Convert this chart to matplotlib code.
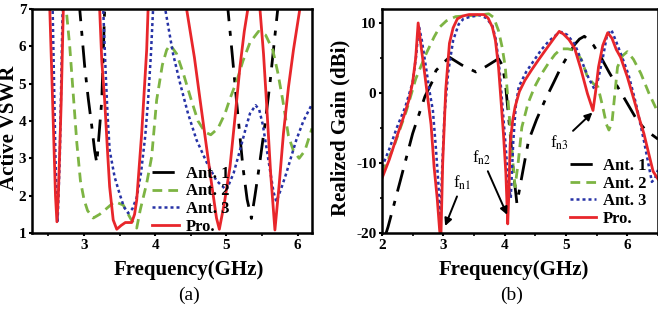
import matplotlib
matplotlib.use("Agg")
import matplotlib.pyplot as plt
from matplotlib.ticker import MultipleLocator

plt.rcParams['font.family'] = ['Liberation Serif', 'DejaVu Serif']
plt.rcParams['mathtext.fontset'] = 'stix'
plt.rcParams['axes.unicode_minus'] = False

# ---- (a) Active VSWR ----
f_ant1_a = [2.27, 2.92, 2.94, 3.01, 3.06, 3.11, 3.15, 3.18, 3.21, 3.25, 3.29, 3.31,
            5.00, 5.02, 5.08, 5.14, 5.23, 5.29, 5.35, 5.40, 5.46, 5.54, 5.61, 5.67, 5.72, 5.75, 6.20]
v_ant1 = [8.5, 8.0, 7.0, 5.46, 4.6, 3.85, 3.2, 2.87, 3.6, 4.56, 7.0, 8.0,
          8.0, 7.0, 5.8, 4.56, 2.78, 1.9, 1.39, 2.0, 2.78, 3.9, 5.0, 6.1, 7.0, 8.0, 8.5]

f_ant2_a = [2.27, 2.72, 2.75, 2.80, 2.85, 2.90, 2.95, 3.00, 3.05, 3.13, 3.22, 3.32, 3.43,
            3.55, 3.65, 3.74, 3.79, 3.88, 3.95, 4.02, 4.10, 4.16, 4.21, 4.30, 4.39, 4.50,
            4.60, 4.70, 4.78, 4.88, 4.98, 5.05, 5.15, 5.23, 5.33, 5.45, 5.55, 5.65, 5.72,
            5.79, 5.87, 5.94, 6.02, 6.10, 6.20]
v_ant2 = [8.5, 8.0, 7.0, 6.0, 4.7, 3.4, 2.4, 1.9, 1.6, 1.4, 1.5, 1.66, 1.84,
          1.75, 1.4, 1.13, 1.62, 2.33, 3.04, 4.56, 5.5, 5.9, 6.04, 5.8, 5.3, 4.6,
          4.0, 3.7, 3.63, 3.8, 4.2, 4.6, 5.1, 5.6, 6.1, 6.4, 6.3, 5.9, 5.3,
          4.56, 3.6, 3.2, 3.0, 3.2, 3.8]

f_ant3_a = [2.27, 2.55, 2.57, 2.60, 2.63, 2.66, 2.70, 2.72, 3.25, 3.27, 3.30, 3.33, 3.36,
            3.43, 3.50, 3.56, 3.62, 3.68, 3.74, 3.80, 3.86, 3.90, 3.94, 3.97, 4.00, 4.12,
            4.14, 4.25, 4.35, 4.46, 4.58, 4.72, 4.86, 5.00, 5.10, 5.19, 5.27, 5.33, 5.41,
            5.46, 5.51, 5.56, 5.61, 5.66, 5.70, 5.77, 5.84, 5.91, 5.98, 6.08, 6.20]
v_ant3 = [8.5, 8.0, 6.0, 3.0, 1.32, 3.0, 7.0, 8.0, 8.0, 7.0, 5.5, 4.2, 3.22,
          2.5, 2.05, 1.7, 1.53, 1.65, 1.95, 2.6, 3.6, 4.56, 5.8, 7.0, 8.0, 8.0,
          7.0, 5.8, 5.0, 4.2, 3.49, 2.9, 2.4, 2.15, 2.6, 3.22, 3.8, 4.2, 4.42,
          4.3, 3.9, 3.3, 2.7, 2.1, 1.84, 2.2, 2.6, 3.05, 3.49, 4.0, 4.45]

f_pro_a = [2.27, 2.50, 2.52, 2.56, 2.60, 2.62, 2.64, 2.68, 2.71, 2.73,
           3.20, 3.22, 3.25, 3.29, 3.33, 3.36, 3.41, 3.46, 3.52, 3.58, 3.67, 3.71, 3.74,
           3.81, 3.88, 3.90, 3.95,
           4.40, 4.44, 4.55, 4.63, 4.72, 4.79, 4.86, 4.90, 4.97, 5.05, 5.12, 5.19, 5.25,
           5.30, 5.33,
           5.44, 5.47, 5.52, 5.56, 5.62, 5.68, 5.74, 5.80, 5.87, 5.94, 6.03, 6.06, 6.20]
v_pro_a = [8.5, 8.0, 7.0, 4.5, 2.0, 1.3, 2.0, 4.5, 7.0, 8.0,
           8.0, 7.0, 5.6, 4.56, 3.2, 2.24, 1.35, 1.1, 1.2, 1.28, 1.28, 1.5, 1.88,
           3.67, 5.9, 7.0, 8.5,
           8.5, 7.0, 5.7, 4.56, 3.3, 2.33, 1.4, 1.1, 1.8, 2.78, 4.1, 5.46, 6.4,
           7.0, 8.0,
           8.0, 7.0, 5.8, 4.56, 2.6, 1.08, 2.3, 3.67, 4.9, 5.9, 7.0, 8.0, 8.5]

# ---- (b) Realized gain ----
f_ant1_b = [2.05, 2.10, 2.30, 2.50, 2.70, 2.83, 2.88, 3.00, 3.10, 3.30, 3.53, 3.70, 3.90,
            3.96, 4.01, 4.09, 4.14, 4.20, 4.30, 4.39, 4.52, 4.66, 4.80, 4.92, 5.05, 5.14,
            5.22, 5.30, 5.45, 5.57, 5.70, 5.84, 6.00, 6.16, 6.30, 6.50]
g_ant1 = [-20.5, -19.1, -12.5, -5.8, -0.5, 1.8, 3.2, 4.3, 5.1, 4.0, 3.0, 3.8, 4.9,
          4.0, 1.6, -5.8, -11.0, -15.8, -11.0, -6.8, -3.8, -1.0, 1.5, 3.7, 5.6, 6.9,
          7.7, 8.1, 6.8, 5.1, 3.0, 0.9, -1.5, -3.9, -5.3, -6.6]

f_ant2_b = [2.00, 2.20, 2.40, 2.55, 2.72, 2.85, 2.94, 3.05, 3.20, 3.35, 3.53, 3.65, 3.74,
            3.82, 3.90, 3.96, 4.01, 4.05, 4.09, 4.13, 4.17, 4.22, 4.28, 4.38, 4.49, 4.60,
            4.71, 4.82, 4.92, 5.03, 5.14, 5.25, 5.35, 5.45, 5.52, 5.60, 5.66, 5.70, 5.75,
            5.84, 5.92, 6.00, 6.10, 6.22, 6.35, 6.50]
g_ant2 = [-11.5, -7.5, -2.5, 2.0, 5.6, 8.0, 9.4, 10.3, 10.9, 11.0, 11.1, 11.2, 11.3,
          10.8, 8.9, 6.5, 3.7, -0.5, -4.9, -9.5, -13.4, -10.0, -4.9, -1.5, 0.9, 2.7,
          4.2, 5.5, 6.3, 6.3, 6.1, 4.8, 2.3, 1.3, 0.9, -2.0, -4.5, -5.3, -4.2,
          3.7, 5.3, 5.9, 4.8, 2.8, 0.0, -2.8]

f_ant3_b = [2.00, 2.12, 2.24, 2.38, 2.50, 2.56, 2.60, 2.65, 2.72, 2.78, 2.83, 2.88, 2.92,
            2.95, 2.98, 3.02, 3.08, 3.16, 3.25, 3.33, 3.45, 3.60, 3.70, 3.80, 3.86, 3.92,
            3.97, 4.02, 4.06, 4.10, 4.14, 4.18, 4.23, 4.35, 4.49, 4.60, 4.72, 4.84, 4.93,
            5.02, 5.14, 5.25, 5.36, 5.46, 5.52, 5.60, 5.67, 5.74, 5.82, 5.92, 6.02, 6.14,
            6.27, 6.40, 6.45, 6.50]
g_ant3 = [-10.6, -8.0, -5.0, -2.0, 1.5, 5.5, 9.7, 7.5, 3.5, 0.0, -2.5, -8.0, -13.0,
          -19.0, -11.0, -3.0, 3.0, 7.5, 9.8, 10.6, 10.9, 11.1, 10.7, 9.6, 7.5, 3.0,
          -2.5, -8.0, -13.0, -15.0, -7.0, -2.0, 0.9, 3.0, 4.8, 6.2, 7.4, 8.3, 8.7,
          8.3, 7.0, 4.7, 2.3, 0.6, 1.8, 5.0, 8.3, 9.0, 7.3, 5.0, 2.6, -1.5,
          -6.8, -12.7, -12.2, -11.0]

f_pro_b = [2.00, 2.12, 2.24, 2.35, 2.44, 2.50, 2.55, 2.59, 2.64, 2.70, 2.75, 2.80, 2.85,
           2.90, 2.94, 2.96, 2.99, 3.04, 3.10, 3.16, 3.23, 3.32, 3.42, 3.55, 3.66, 3.73,
           3.80, 3.85, 3.90, 3.94, 3.98, 4.02, 4.05, 4.07, 4.09, 4.13, 4.17, 4.24, 4.33,
           4.44, 4.55, 4.68, 4.82, 4.89, 4.96, 5.05, 5.14, 5.24, 5.35, 5.44, 5.48, 5.53,
           5.60, 5.68, 5.75, 5.82, 5.89, 6.00, 6.11, 6.20, 6.27, 6.35, 6.42, 6.50]
g_pro_b = [-12.2, -9.5, -6.3, -3.5, -1.0, 1.5, 5.0, 10.0, 6.5, 2.5, -1.0, -4.5, -10.6,
           -15.0, -19.6, -21.0, -10.0, 0.5, 7.1, 9.3, 10.6, 11.0, 11.2, 11.2, 11.2, 10.7,
           9.4, 7.5, 3.7, -1.0, -5.8, -11.5, -18.7, -14.0, -7.2, -4.0, -2.0, 0.2, 1.8,
           3.3, 4.7, 6.3, 8.0, 8.8, 8.4, 7.6, 6.4, 3.5, -0.1, -2.5, 0.0, 3.7,
           6.8, 8.6, 7.8, 6.2, 5.1, 2.3, -1.0, -3.8, -5.8, -8.7, -11.2, -12.3]

# annotations: text position, arrow tip
notes = ['f$_{\\rm n1}$', 'f$_{\\rm n2}$', 'f$_{\\rm n3}$']
note_xy = [(3.03, -19.0), (4.04, -17.4), (5.43, -2.8)]
note_text = [(3.31, -14.2), (3.63, -10.6), (4.90, -8.5)]

labels = ['Ant. 1', 'Ant. 2', 'Ant. 3', 'Pro.']
colors = ['black', '#7db443', '#2632a6', '#e8262b']
styles = [(0, (8, 3.5, 1.8, 3.5)), (0, (3.5, 2.2)), (0, (1.2, 1.2)), '-']

fig = plt.figure(figsize=(6.58, 3.16), dpi=100)
ax1 = fig.add_axes([0.0486, 0.2627, 0.4255, 0.709])
ax2 = fig.add_axes([0.5805, 0.2627, 0.4195, 0.709])

data_a = [(f_ant1_a, v_ant1), (f_ant2_a, v_ant2), (f_ant3_a, v_ant3), (f_pro_a, v_pro_a)]
data_b = [(f_ant1_b, g_ant1), (f_ant2_b, g_ant2), (f_ant3_b, g_ant3), (f_pro_b, g_pro_b)]

for i in range(4):
    lw = 2.0 if i != 2 else 1.8
    ax1.plot(data_a[i][0], data_a[i][1], color=colors[i], ls=styles[i], lw=lw, label=labels[i])
    ax2.plot(data_b[i][0], data_b[i][1], color=colors[i], ls=styles[i], lw=lw, label=labels[i])

ax1.set_xlim(2.27, 6.2)
ax1.set_ylim(1, 7)
ax1.set_xticks([3, 4, 5, 6])
ax1.xaxis.set_minor_locator(MultipleLocator(0.5))
ax1.set_yticks(range(1, 8))

ax2.set_xlim(2, 6.5)
ax2.set_ylim(-20, 12)
ax2.set_xticks([2, 3, 4, 5, 6])
ax2.set_yticks([-20, -10, 0, 10])
ax2.xaxis.set_minor_locator(MultipleLocator(0.5))
ax2.yaxis.set_minor_locator(MultipleLocator(5))

for ax in (ax1, ax2):
    for s in ax.spines.values():
        s.set_linewidth(1.8)
    ax.tick_params(which='major', direction='out', width=1.5, length=2.5, labelsize=11, pad=1.5)
    ax.tick_params(which='minor', direction='out', width=1.2, length=1.8)
    for t in ax.get_xticklabels() + ax.get_yticklabels():
        t.set_fontweight('bold')
    ax.set_xlabel('Frequency(GHz)', fontsize=15, fontweight='bold')

ax1.set_ylabel('Active VSWR', fontsize=15, fontweight='bold')
ax2.set_ylabel('Realized Gain (dBi)', fontsize=15, fontweight='bold')
ax1.xaxis.set_label_coords(0.56, -0.12)
ax2.xaxis.set_label_coords(0.477, -0.12)
ax1.yaxis.set_label_coords(-0.048, 0.47)
ax2.yaxis.set_label_coords(-0.114, 0.47)

leg_kw = dict(frameon=False, prop={'weight': 'bold', 'size': 12}, handlelength=1.6,
              handletextpad=0.4, labelspacing=0.1, borderpad=0, borderaxespad=0)
ax1.legend(loc='upper left', bbox_to_anchor=(0.43, 0.30), **leg_kw)
ax2.legend(loc='upper left', bbox_to_anchor=(0.68, 0.335), **leg_kw)

for txt, xy, xyt in zip(notes, note_xy, note_text):
    ax2.annotate(txt, xy=xy, xytext=xyt, fontsize=12, ha='center', va='bottom',
                 arrowprops=dict(arrowstyle='-|>', color='black', lw=1.4,
                                 mutation_scale=11, shrinkA=1, shrinkB=0))

fig.text(0.287, 0.066, '(a)', fontsize=14, ha='center', va='center')
fig.text(0.778, 0.066, '(b)', fontsize=14, ha='center', va='center')

fig.savefig('out.png', dpi=100)
